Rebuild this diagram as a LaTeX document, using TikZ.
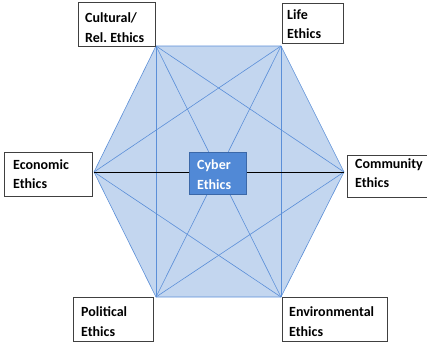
\documentclass[tikz,border=0pt]{standalone}
\usepackage{fontspec}
\setmainfont{Carlito}
\definecolor{hexfill}{HTML}{C3D6EF}
\definecolor{hexline}{HTML}{5B8FD8}
\definecolor{cfill}{HTML}{5189D6}
\definecolor{cline}{HTML}{3B68A8}
\begin{document}
\begin{tikzpicture}[x=1bp,y=-1bp,
  lbl/.style={draw=black!75, line width=0.7bp, fill=white, anchor=north west, inner sep=0bp},
  txt/.style={anchor=base west, inner sep=0bp, font=\fontsize{14bp}{20bp}\selectfont\bfseries},
  diag/.style={draw=hexline, line width=0.6bp},
  center/.style={draw=cline, line width=0.8bp, fill=cfill, anchor=north west, inner sep=0bp}]
\useasboundingbox (0,0) rectangle (427,342);
\clip (0,0) rectangle (427,342);
\coordinate (TL) at (156,46);
\coordinate (TR) at (281,46);
\coordinate (R) at (344,172);
\coordinate (BR) at (281,297);
\coordinate (BL) at (156,297);
\coordinate (L) at (94,172);
\fill[hexfill] (TL) -- (TR) -- (R) -- (BR) -- (BL) -- (L) -- cycle;
\draw[diag] (TL) -- (TR) -- (R) -- (BR) -- (BL) -- (L) -- cycle;
\draw[diag] (TL) -- (BL);
\draw[diag] (TR) -- (BR);
\draw[diag] (TL) -- (BR);
\draw[diag] (TR) -- (BL);
\draw[diag] (TL) -- (R);
\draw[diag] (TR) -- (L);
\draw[diag] (BL) -- (R);
\draw[diag] (BR) -- (L);
\draw[black, line width=0.7bp] (L) -- (R);
% center
\node[center, minimum width=57bp, minimum height=42bp] (cyber) at (189,152) {};
\node[txt, text=white] (cyber1) at (197,169) {Cyber};
\node[txt, text=white] (cyber2) at (197,189) {Ethics};
% labels
\node[lbl, minimum width=77bp, minimum height=44bp] (cult) at (78,2) {};
\node[txt] (cult1) at (85,22) {Cultural/};
\node[txt] (cult2) at (85,42) {Rel.\ Ethics};
\node[lbl, minimum width=61bp, minimum height=40bp] (life) at (282,3) {};
\node[txt] (life1) at (287,19) {Life};
\node[txt] (life2) at (287,38) {Ethics};
\node[lbl, minimum width=88bp, minimum height=44bp] (econ) at (4,152) {};
\node[txt] (econ1) at (13,169) {Economic};
\node[txt] (econ2) at (13,188) {Ethics};
\node[lbl, minimum width=90bp, minimum height=42bp] (comm) at (347,155) {};
\node[txt] (comm1) at (355,168) {Community};
\node[txt] (comm2) at (355,187) {Ethics};
\node[lbl, minimum width=80bp, minimum height=44bp] (poli) at (73,297) {};
\node[txt] (poli1) at (81,316) {Political};
\node[txt] (poli2) at (81,336) {Ethics};
\node[lbl, minimum width=105bp, minimum height=44bp] (envi) at (282,297) {};
\node[txt] (envi1) at (289,316) {Environmental};
\node[txt] (envi2) at (289,336) {Ethics};
\end{tikzpicture}
\end{document}
